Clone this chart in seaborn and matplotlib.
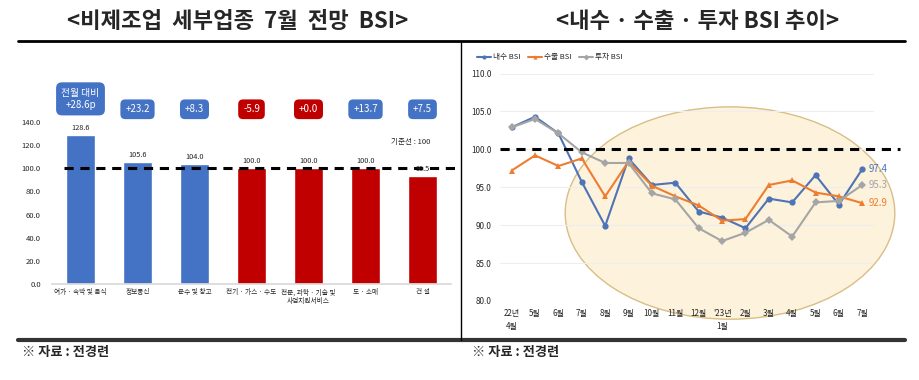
import matplotlib
matplotlib.use("Agg")
import matplotlib.pyplot as plt
import numpy as np
import pandas as pd
import seaborn as sns
from matplotlib.patches import Ellipse

# left panel: 7월 전망 BSI by sector
SECTORS = ["여가 · 숙박 및 음식", "정보통신", "운수 및 창고", "전기 · 가스 · 수도",
           "전문, 과학 · 기술 및\n사업지원서비스", "도 · 소매", "건 설"]
BSI_JULY = [128.6, 105.6, 104.0, 100.0, 100.0, 100.0, 93.5]
MOM_CHANGE = ["전월 대비\n+28.6p", "+23.2", "+8.3", "-5.9", "+0.0", "+13.7", "+7.5"]
CHANGE_UP = [True, True, True, False, False, True, True]

# right panel: monthly trend
MONTHS = ["22년\n4월", "5월", "6월", "7월", "8월", "9월", "10월", "11월", "12월",
          "'23년\n1월", "2월", "3월", "4월", "5월", "6월", "7월"]
DOMESTIC = [102.9, 104.3, 102.1, 95.7, 89.9, 98.8, 95.3, 95.6, 91.8, 91.0, 89.6, 93.5, 93.0, 96.6, 92.7, 97.4]
EXPORT = [97.2, 99.2, 97.8, 98.8, 93.8, 98.4, 95.2, 93.8, 92.6, 90.6, 90.8, 95.3, 95.9, 94.3, 93.8, 92.9]
INVEST = [102.9, 104.0, 102.1, 99.6, 98.2, 98.2, 94.2, 93.4, 89.6, 87.9, 89.0, 90.7, 88.5, 93.0, 93.2, 95.3]

BLUE = "#4472C4"
RED = "#C00000"
L_BLUE = "#4E74B5"
L_ORANGE = "#ED7D31"
L_GRAY = "#A5A5A5"

sns.set_theme(style="white")
plt.rcParams["font.family"] = ["Noto Sans CJK KR", "DejaVu Sans"]
plt.rcParams["axes.unicode_minus"] = False

W, H = 919, 380
fig = plt.figure(figsize=(W / 100, H / 100), dpi=100)


def px_axes(x0, y0, x1, y1):
    return fig.add_axes([x0 / W, 1 - y1 / H, (x1 - x0) / W, (y1 - y0) / H])


# frame
bg = fig.add_axes([0, 0, 1, 1])
bg.set_xlim(0, W)
bg.set_ylim(H, 0)
bg.axis("off")
bg.plot([18, 905], [41, 41], color="black", lw=2)
bg.plot([18, 905], [340, 340], color="#333333", lw=3)
bg.plot([461, 461], [41, 340], color="black", lw=1)
bg.text(238, 22, "<비제조업  세부업종  7월  전망  BSI>", ha="center", va="center",
        fontsize=16, fontweight="bold")
bg.text(698, 22, "<내수 · 수출 · 투자 BSI 추이>", ha="center", va="center",
        fontsize=16, fontweight="bold")
bg.text(22, 352, "※ 자료 : 전경련", ha="left", va="center", fontsize=9.5, fontweight="bold")
bg.text(472, 352, "※ 자료 : 전경련", ha="left", va="center", fontsize=9.5, fontweight="bold")

# ---- left bar chart
ax = px_axes(52, 122, 451, 284)
df_bar = pd.DataFrame({"sector": SECTORS, "bsi": BSI_JULY,
                       "dir": ["above" if v > 100 else "below" for v in BSI_JULY]})
sns.barplot(data=df_bar, x="sector", y="bsi", hue="dir",
            palette={"above": BLUE, "below": RED}, width=0.5, dodge=False,
            legend=False, ax=ax, saturation=1)
ax.set_ylim(0, 140)
ax.set_xlim(-0.5, len(SECTORS) - 0.5)
ax.set_yticks(np.arange(0, 141, 20))
ax.set_yticklabels([f"{v:.1f}" for v in np.arange(0, 141, 20)], fontsize=5.5)
ax.tick_params(axis="x", labelsize=4.8, length=0, pad=3)
ax.tick_params(axis="y", length=0, pad=8)
ax.set_xlabel("")
ax.set_ylabel("")
for s in ["top", "right", "left"]:
    ax.spines[s].set_visible(False)
ax.spines["bottom"].set_color("#D9D9D9")
ax.axhline(100, xmin=0.03, xmax=1.01, color="black", lw=2.2, ls=(0, (3, 2.2)),
           clip_on=False, zorder=5)
for i, (v, lab, up) in enumerate(zip(BSI_JULY, MOM_CHANGE, CHANGE_UP)):
    ax.text(i, v + 2.5, f"{v:.1f}", ha="center", va="bottom", fontsize=5.3, zorder=6)
    color = BLUE if up else RED
    if i == 0:
        ax.text(i, 160, lab, ha="center", va="center", color="white", fontsize=7,
                linespacing=1.3,
                bbox=dict(boxstyle="round,pad=0.55,rounding_size=0.6", fc=color, ec="none"))
    else:
        ax.text(i, 151, lab, ha="center", va="center", color="white", fontsize=7,
                bbox=dict(boxstyle="round,pad=0.5,rounding_size=0.5", fc=color, ec="none"))
ax.text(5.8, 123, "기준선 : 100", ha="center", va="center", fontsize=5.5)

# ---- right line chart
ax2 = px_axes(500, 73.5, 874, 301)
x = np.arange(len(MONTHS))
df_line = pd.DataFrame({
    "x": np.tile(x, 3),
    "value": DOMESTIC + EXPORT + INVEST,
    "series": ["내수 BSI"] * len(x) + ["수출 BSI"] * len(x) + ["투자 BSI"] * len(x),
})
ax2.add_patch(Ellipse((9.34, 91.6), 14.1, 28.0, fc="#FDF2DC", ec="#D9BE85", lw=1,
                      clip_on=False, zorder=0))
sns.lineplot(data=df_line, x="x", y="value", hue="series", style="series",
             palette={"내수 BSI": L_BLUE, "수출 BSI": L_ORANGE, "투자 BSI": L_GRAY},
             markers={"내수 BSI": "o", "수출 BSI": "^", "투자 BSI": "D"},
             dashes=False, markersize=4.5, markeredgewidth=0, lw=1.5, ax=ax2, zorder=3)
ax2.set_xlim(-0.5, len(MONTHS) - 0.5)
ax2.set_ylim(80, 110)
ax2.set_yticks(np.arange(80, 111, 5))
ax2.set_yticklabels([f"{v:.1f}" for v in np.arange(80, 111, 5)], fontsize=5.8)
ax2.set_xticks(x)
ax2.set_xticklabels(MONTHS, fontsize=5.8, linespacing=1.5)
ax2.tick_params(length=0, pad=6)
ax2.set_xlabel("")
ax2.set_ylabel("")
ax2.grid(axis="y", color="#EEEEEE", lw=0.8)
ax2.set_axisbelow(True)
for s in ax2.spines.values():
    s.set_visible(False)
ax2.axhline(100, xmin=0, xmax=1.07, color="black", lw=2.2, ls=(0, (3, 2.2)),
            clip_on=False, zorder=4)
last = len(MONTHS) - 1
for vals, c in [(DOMESTIC, L_BLUE), (INVEST, L_GRAY), (EXPORT, L_ORANGE)]:
    ax2.text(last + 0.25, vals[-1], f"{vals[-1]:.1f}", color=c, fontsize=7,
             va="center", ha="left")
leg = ax2.legend(loc="lower left", bbox_to_anchor=(-0.07, 1.04), ncol=3, frameon=False,
                 fontsize=5.5, handlelength=1.8, columnspacing=1.0, handletextpad=0.3,
                 borderaxespad=0)
for h in leg.legend_handles:
    h.set_markersize(3)

fig.savefig("out.png", dpi=100)
